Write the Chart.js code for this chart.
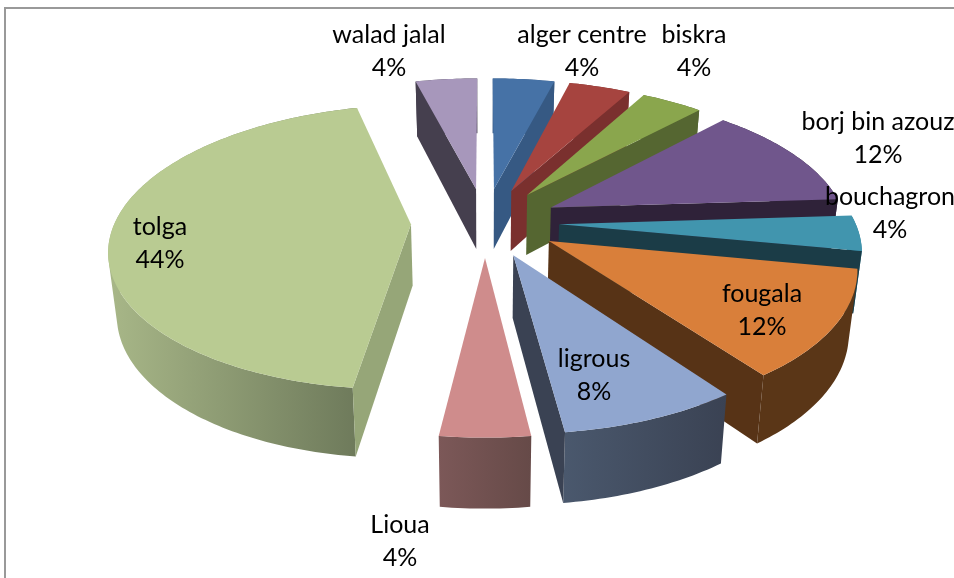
<!DOCTYPE html>
<html><head><meta charset="utf-8">
<style>html,body{margin:0;padding:0;background:#fff}canvas{display:block}</style>
<script src="https://cdn.jsdelivr.net/npm/chart.js@4"></script>
</head><body>
<canvas id="c" width="954" height="578"></canvas>
<script>
const categories = ['alger centre','','biskra','borj bin azouz','bouchagron','fougala','ligrous','Lioua','tolga','walad jalal'];
const percents = [4,4,4,12,4,12,8,4,44,4];
const explosion = [25,25,25,25,25,25,25,25,25,25];
const topColors = ['#4672a6','#a6443f','#8aa64d','#70568c','#4195ae','#d97f3a','#90a6cf','#cf8c8c','#b9cb92','#a797bb'];
const sideColors = ['#365983','#7a302e','#556631','#2f2239','#1b3c47','#573316','#3a4253','#664a48','#96a678','#453f4e'];
const rimStartColors = ['#365983','#7a302e','#556631','#2f2239','#2a7c96','#5a3617','#4a586d','#7c5858','#a8b788','#453f4e'];
const rimEndColors = ['#365983','#7a302e','#556631','#2f2239','#2a7c96','#5a3617','#3a4253','#664a48','#6e7a5b','#453f4e'];
const labelCentres = [[582,35],null,[694,35],[878,122],[890,197],[762,294],[594,359],[400,525],[160,227],[389,35]];

const view = {cx:485, cy:222, rx:296, ry:138, k:0.16};
function project(u,v){
  const w = 1 - view.k*v;
  return [view.cx + view.rx*u/w, view.cy + view.ry*v/w];
}
function lower(p){ // the base plane of the extruded pie
  return [view.cx + (p[0]-view.cx)*0.977, p[1]*1.045 + 51.3];
}
function signedArea(q){
  let a = 0;
  q.forEach((p,j)=>{ const n = q[(j+1)%q.length]; a += p[0]*n[1]-n[0]*p[1]; });
  return a;
}
const pie3d = {
  id:'pie3d',
  beforeDatasetsDraw(chart){
    const ctx = chart.ctx, arcs = chart.getDatasetMeta(0).data;
    const items = arcs.map((arc,i)=>{
      const a0 = arc.startAngle + Math.PI/2, a1 = arc.endAngle + Math.PI/2, mid = (a0+a1)/2;
      const d = arc.options.offset/100;
      const apex = [d*Math.sin(mid), -d*Math.cos(mid)];
      const rim = [];
      const n = Math.max(2, Math.ceil((a1-a0)*180/Math.PI));
      for(let j=0;j<=n;j++){
        const a = a0+(a1-a0)*j/n;
        rim.push(project(apex[0]+Math.sin(a), apex[1]-Math.cos(a)));
      }
      return {i,a0,a1,depth:-Math.cos(mid),apex:project(apex[0],apex[1]),rim};
    }).sort((p,q)=>p.depth-q.depth);
    const trace = pts=>{
      pts.forEach((p,j)=> j? ctx.lineTo(p[0],p[1]) : ctx.moveTo(p[0],p[1]));
      ctx.closePath();
    };
    const poly = (pts,fill)=>{
      ctx.beginPath();
      trace(pts);
      ctx.fillStyle = fill; ctx.fill();
    };
    for(const s of items){
      const i = s.i, first = s.rim[0], last = s.rim[s.rim.length-1];
      const xs = s.rim.map(p=>p[0]);
      const grad = ctx.createLinearGradient(Math.min(...xs),0,Math.max(...xs),0);
      grad.addColorStop(0, rimStartColors[i]);
      grad.addColorStop(1, rimEndColors[i]);
      ctx.beginPath();
      for(let j=0;j<s.rim.length-1;j++){
        const q = [s.rim[j],s.rim[j+1],lower(s.rim[j+1]),lower(s.rim[j])];
        trace(signedArea(q) < 0 ? q.reverse() : q);
      }
      ctx.fillStyle = grad; ctx.fill();
      if(Math.sin(s.a0) < 0) poly([s.apex,first,lower(first),lower(s.apex)], sideColors[i]);
      if(Math.sin(s.a1) > 0) poly([s.apex,last,lower(last),lower(s.apex)], sideColors[i]);
      poly([s.apex].concat(s.rim), topColors[i]);
    }
    return false;
  },
  afterDraw(chart){
    const ctx = chart.ctx;
    ctx.save();
    ctx.fillStyle = '#999999';
    ctx.fillRect(4,7,950,2);
    ctx.fillRect(4,7,2,571);
    ctx.fillStyle = '#000';
    ctx.font = '25px Lato';
    ctx.textAlign = 'center';
    ctx.textBaseline = 'middle';
    categories.forEach((name,i)=>{
      const c = labelCentres[i];
      if(!c) return;
      ctx.fillText(name, c[0], c[1]);
      ctx.fillText(percents[i]+'%', c[0], c[1]+33);
    });
    ctx.restore();
  }
};
new Chart(document.getElementById('c'),{
  type:'pie',
  data:{labels:categories,datasets:[{data:percents,backgroundColor:topColors,offset:explosion,borderWidth:0}]},
  options:{responsive:false,animation:false,plugins:{legend:{display:false},tooltip:{enabled:false}}},
  plugins:[pie3d]
});
</script>
</body></html>
